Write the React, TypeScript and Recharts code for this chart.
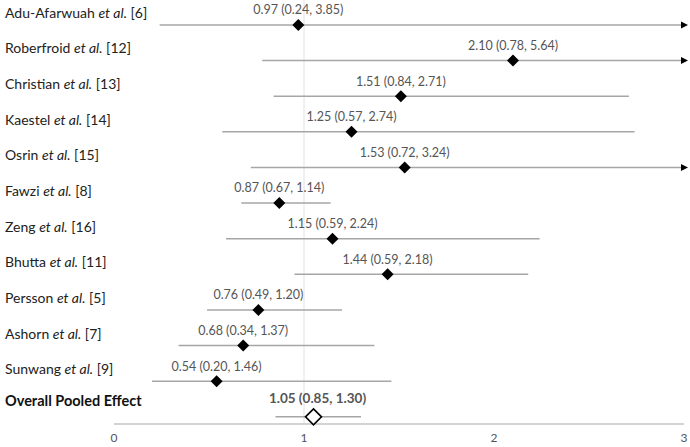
import React from 'react';
import {
  ReferenceLine,
  Scatter,
  ScatterChart,
  XAxis,
  YAxis,
} from 'recharts';

const authors = [
  'Adu-Afarwuah',
  'Roberfroid',
  'Christian',
  'Kaestel',
  'Osrin',
  'Fawzi',
  'Zeng',
  'Bhutta',
  'Persson',
  'Ashorn',
  'Sunwang',
];
const refs = [6, 12, 13, 14, 15, 8, 16, 11, 5, 7, 9];
const pooledLabel = 'Overall Pooled Effect';

const estimates = [0.97, 2.1, 1.51, 1.25, 1.53, 0.87, 1.15, 1.44, 0.76, 0.68, 0.54, 1.05];
const lower = [0.24, 0.78, 0.84, 0.57, 0.72, 0.67, 0.59, 0.59, 0.49, 0.34, 0.2, 0.85];
const upper = [3.85, 5.64, 2.71, 2.74, 3.24, 1.14, 2.24, 2.18, 1.2, 1.37, 1.46, 1.3];
// where the drawn interval line starts (Bhutta's line is drawn shorter than its label)
const lineFrom = [0.24, 0.78, 0.84, 0.57, 0.72, 0.67, 0.59, 0.95, 0.49, 0.34, 0.2, 0.85];

const xTicks = [0, 1, 2, 3];
const X_MAX = 3;

const FONT = 'Lato, "Open Sans", sans-serif';
const LINE_GREY = '#a6a6a6';
const TEXT_GREY = '#555555';

type Row = {
  row: number;
  est: number;
  lo: number;
  hi: number;
  pooled: boolean;
};

const rows: Row[] = estimates.map((est, i) => ({
  row: i,
  est,
  lo: lower[i],
  hi: upper[i],
  pooled: i === estimates.length - 1,
}));

const yTicks = rows.map((r) => r.row);

function fmt(v: number) {
  return v.toFixed(2);
}

function StudyTick(props: any) {
  const { y, payload } = props;
  const i = payload.value as number;
  if (i >= authors.length) {
    return (
      <text x={5} y={y - 16} dy="0.35em" fontSize={14.5} fontWeight={700} fill="#111" fontFamily={FONT}>
        {pooledLabel}
      </text>
    );
  }
  return (
    <text x={5} y={y - 12} dy="0.35em" fontSize={14} fill="#222" fontFamily={FONT}>
      <tspan>{authors[i]} </tspan>
      <tspan fontStyle="italic">et al.</tspan>
      <tspan> [{refs[i]}]</tspan>
    </text>
  );
}

function Marker(props: any) {
  const { cx, cy, payload } = props;
  const p = payload as Row;
  const label = `${fmt(p.est)} (${fmt(p.lo)}, ${fmt(p.hi)})`;
  if (p.pooled) {
    return (
      <g>
        <text
          x={cx + 4}
          y={cy - 19}
          dy="0.35em"
          textAnchor="middle"
          fontSize={13.5}
          fontWeight={700}
          fill={TEXT_GREY}
          fontFamily={FONT}
        >
          {label}
        </text>
        <polygon
          points={`${cx},${cy - 8} ${cx + 8},${cy} ${cx},${cy + 8} ${cx - 8},${cy}`}
          fill="#fff"
          stroke="#000"
          strokeWidth={1.6}
        />
      </g>
    );
  }
  return (
    <g>
      <text
        x={cx}
        y={cy - 15}
        dy="0.35em"
        textAnchor="middle"
        fontSize={12.5}
        fill={TEXT_GREY}
        fontFamily={FONT}
      >
        {label}
      </text>
      <polygon
        points={`${cx},${cy - 6} ${cx + 6},${cy} ${cx},${cy + 6} ${cx - 6},${cy}`}
        fill="#000"
      />
    </g>
  );
}

function CiLine(props: any) {
  const { x1, y1, x2, arrow } = props;
  if (x1 == null || x2 == null) return null;
  if (!arrow) {
    return <line x1={x1} y1={y1} x2={x2} y2={y1} stroke={LINE_GREY} strokeWidth={1.5} />;
  }
  return (
    <g>
      <line x1={x1} y1={y1} x2={x2 - 3} y2={y1} stroke={LINE_GREY} strokeWidth={1.5} />
      <polygon points={`${x2 - 3},${y1 - 3.5} ${x2 + 4},${y1} ${x2 - 3},${y1 + 3.5}`} fill="#000" />
    </g>
  );
}

export default function App() {
  return (
    <div style={{ position: 'absolute', left: 0, top: 0, background: '#fff' }}>
      <ScatterChart
        width={690}
        height={447}
        margin={{ top: 0, right: 6, bottom: 0, left: 0 }}
        style={{ fontFamily: FONT }}
      >
        <XAxis
          type="number"
          dataKey="est"
          domain={[0, X_MAX]}
          ticks={xTicks}
          allowDataOverflow
          height={23}
          axisLine={{ stroke: '#c4c4c4', strokeWidth: 1.5 }}
          tickLine={false}
          tick={{ fill: TEXT_GREY, fontSize: 12, fontFamily: FONT }}
          tickMargin={3}
        />
        <YAxis
          type="number"
          dataKey="row"
          domain={[-0.7, 11.2]}
          reversed
          ticks={yTicks}
          interval={0}
          width={114}
          axisLine={false}
          tickLine={false}
          tick={<StudyTick />}
        />
        <ReferenceLine x={1} stroke="#e2e2e2" strokeWidth={1} />
        {rows.map((r, i) => (
          <ReferenceLine
            key={i}
            segment={[
              { x: lineFrom[i], y: r.row },
              { x: Math.min(r.hi, X_MAX), y: r.row },
            ]}
            shape={(p: any) => <CiLine {...p} arrow={r.hi > X_MAX} />}
          />
        ))}
        <Scatter data={rows} shape={<Marker />} isAnimationActive={false} />
      </ScatterChart>
    </div>
  );
}
